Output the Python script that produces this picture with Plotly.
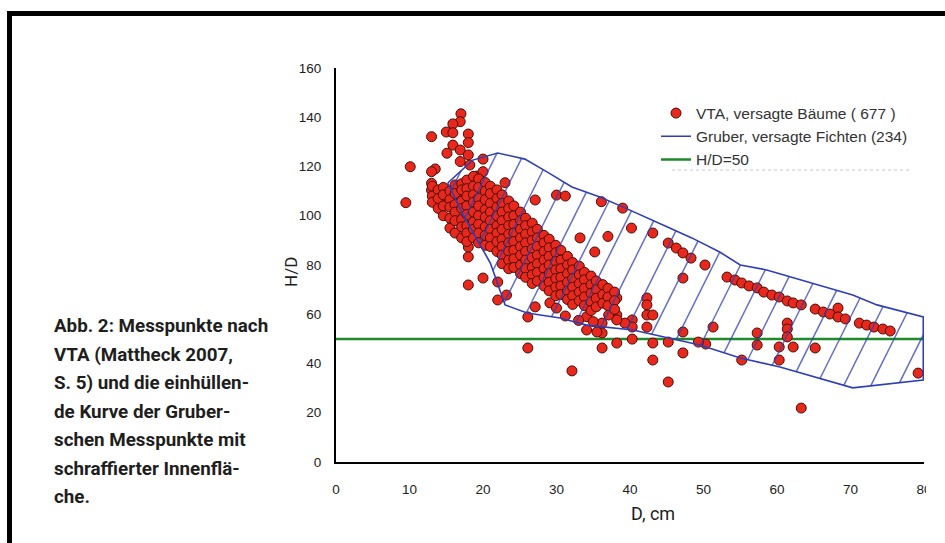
import numpy as np
import plotly.graph_objects as go

# ---------------- data ----------------
# VTA scattered points (D in cm, H/D)
vta_d_outer = [17.0, 16.9, 15.9, 15.0, 15.9, 18.0, 18.0, 13.0, 15.9, 16.9, 15.1, 18.0, 20.0, 16.9, 18.2,
               10.1, 13.5, 13.0, 19.1, 20.0, 13.0, 23.0, 13.0, 14.0, 9.5, 15.1, 16.9,
               18.0, 18.0, 18.0, 20.0, 22.0, 22.0, 23.2, 26.1, 26.1,
               30.0, 31.2, 27.1, 36.1, 39.0, 33.2, 37.0, 40.2, 43.1, 35.2, 45.2, 46.3, 47.2, 48.3, 50.2, 47.2,
               53.2, 54.3, 55.2, 56.2, 57.3, 58.2, 59.3, 60.3, 61.4, 62.2, 63.3, 65.2, 66.3, 67.2, 68.3, 68.3,
               69.3, 71.2, 72.2, 73.2, 74.4, 75.4,
               79.2, 63.3, 45.2, 43.1, 47.2, 47.2, 51.3, 57.3, 57.3, 55.2, 60.3, 60.3, 61.4, 61.4, 61.4, 62.2,
               65.2, 50.3, 49.3, 45.2, 43.1, 40.3, 38.2, 36.2,
               42.3, 42.3, 42.3, 43.1, 42.3, 40.3, 40.3, 39.3, 38.2, 38.2, 37.1, 36.2, 36.2, 37.1, 38.2, 37.1, 36.2,
               31.2, 29.1, 30.0, 27.1, 34.1, 35.0, 35.5, 34.1, 32.1, 33.0]
vta_hd_outer = [141.4, 138.2, 137.3, 134.0, 133.7, 133.2, 129.7, 132.1, 128.7, 126.7, 125.4, 124.7, 123.0, 122.0, 120.6,
                119.9, 119.0, 117.9, 116.1, 117.9, 113.2, 113.4, 110.4, 108.0, 105.3, 107.1, 107.1,
                87.3, 83.3, 71.9, 74.7, 73.1, 65.8, 67.8, 58.9, 46.3,
                108.4, 108.0, 106.4, 105.7, 103.1, 91.0, 91.6, 95.0, 93.0, 85.3, 88.9, 86.9, 84.9, 82.8, 80.0, 74.7,
                75.1, 73.9, 72.7, 71.5, 70.7, 69.0, 67.8, 67.0, 65.4, 64.6, 63.8, 62.1, 60.9, 60.1, 62.5, 58.9,
                58.1, 56.4, 55.6, 54.8, 54.0, 53.2,
                36.1, 21.9, 32.5, 41.4, 44.3, 52.8, 54.8, 52.4, 47.5, 41.4, 46.7, 41.4, 56.4, 54.0, 50.8, 46.7,
                46.3, 47.9, 48.7, 48.7, 48.3, 49.9, 48.3, 46.3,
                66.6, 63.8, 59.7, 59.7, 54.8, 57.7, 54.8, 56.4, 59.7, 57.7, 59.7, 56.4, 52.4, 67.8, 66.6, 63.8, 71.9,
                59.3, 64.6, 62.5, 63.0, 59.0, 57.0, 52.8, 53.6, 37.0, 57.5]

# dense core of the VTA cloud, read column by column
core_col_d = [13.1, 13.9, 14.6, 15.5, 16.2, 17.1, 17.8, 18.7, 19.4, 20.3, 21.0, 21.9, 22.6, 23.5, 24.2,
              25.1, 25.8, 26.7, 27.4, 28.3, 29.0, 29.9, 30.6, 31.5, 32.2, 33.1, 33.8, 34.7, 35.4, 36.3,
              37.0, 37.9]
core_col_hd = [
    [112, 108, 105.5],
    [110.5, 107, 103],
    [111.5, 108.5, 104, 100],
    [110, 106.5, 103.5, 99, 95],
    [112.5, 109, 104.5, 101.5, 98, 93],
    [113, 110.5, 106, 103, 98.5, 95.5, 91],
    [114.5, 111, 108, 104, 100.5, 96, 93, 89.5],
    [116, 112, 108.5, 105.5, 101.5, 97.5, 94.5, 91],
    [115, 111.5, 107, 104, 100, 96.5, 93, 89],
    [113.5, 110, 106.5, 102.5, 99.5, 95.5, 92, 88],
    [112, 109, 105, 101.5, 98, 94.5, 91, 87.5],
    [110.5, 107, 103.5, 100, 96, 93, 89.5, 85.5],
    [108.5, 105, 101.5, 98, 94.5, 90.5, 87.5, 84, 80.5],
    [106, 103, 99.5, 96, 92.5, 89, 85.5, 82, 78.5],
    [104, 100, 96.5, 93, 89.5, 86, 82.5, 79],
    [101.5, 98, 94.5, 91, 87.5, 84, 80, 76.5],
    [99, 96, 92.5, 89, 85.5, 82, 78.5, 75],
    [97, 93.5, 90, 86.5, 83, 79, 76, 72.5],
    [94.5, 91, 87.5, 84, 80.5, 77, 73.5],
    [92, 89, 85.5, 82, 78.5, 75, 71.5],
    [90.5, 87, 83.5, 80, 76.5, 73, 69.5],
    [88, 85, 81.5, 78, 74.5, 71, 67.5],
    [86, 82, 78.5, 75, 71.5, 68],
    [83.5, 80, 76.5, 73, 69.5, 66],
    [81, 78, 74.5, 71, 67.5, 64],
    [79.5, 76, 72.5, 69, 65.5],
    [77, 74, 70.5, 67, 63.5],
    [75.5, 72, 68.5, 65, 61.5],
    [73.5, 70, 66.5, 63],
    [72, 68, 64.5],
    [70.5, 67, 63.5],
    [69, 65.5, 62],
]

# Gruber envelope (hull of the Gruber measurements)
gruber_upper_d = [15.2, 18.6, 22.0, 25.7, 28.7, 32.1, 35.9, 39.0, 45.4, 48.4, 52.2, 55.0, 58.6, 66.3, 70.3, 73.6, 79.9]
gruber_upper_hd = [113.3, 122.6, 125.5, 123.0, 117.8, 111.7, 107.6, 103.6, 95.0, 91.0, 85.3, 80.0, 78.0, 71.1, 67.8, 63.8, 58.9]
gruber_lower_d = [79.9, 70.3, 60.4, 55.0, 49.5, 45.0, 40.4, 34.1, 30.5, 26.0, 23.0, 21.0, 17.3]
gruber_lower_hd = [33.3, 30.1, 38.6, 42.2, 47.5, 50.4, 53.6, 55.6, 58.5, 60.5, 63.8, 80.8, 100.3]

ref_d = [0, 80]
ref_hd = [50, 50]

x_ticks = [0, 10, 20, 30, 40, 50, 60, 70, 80]
y_ticks = [0, 20, 40, 60, 80, 100, 120, 140, 160]

caption_lines = ["Abb. 2: Messpunkte nach", "VTA (Mattheck 2007,", "S. 5) und die einhüllen-",
                 "de Kurve der Gruber-", "schen Messpunkte mit", "schraffierter Innenflä-", "che."]

# ---------------- build ----------------
core_d = [d for d, col in zip(core_col_d, core_col_hd) for _ in col]
core_hd = [h for col in core_col_hd for h in col]
vta_d = vta_d_outer + core_d
vta_hd = vta_hd_outer + core_hd

poly_d = gruber_upper_d + gruber_lower_d + [gruber_upper_d[0]]
poly_hd = gruber_upper_hd + gruber_lower_hd + [gruber_upper_hd[0]]

# hatch lines inside the envelope
slope = 6.0      # steepness of hatch in data units
step = 3.7
phase = 45.4
hx, hy = [], []
P = list(zip(poly_d, poly_hd))
for c in np.arange(phase - 14 * step, 82, step):
    ys = []
    for (x1, y1), (x2, y2) in zip(P[:-1], P[1:]):
        f1 = x1 - y1 / slope - c
        f2 = x2 - y2 / slope - c
        if f1 * f2 < 0:
            u = f1 / (f1 - f2)
            ys.append(y1 + u * (y2 - y1))
    ys.sort()
    for a, b in zip(ys[0::2], ys[1::2]):
        hx += [c + a / slope, c + b / slope, None]
        hy += [a, b, None]

BLUE = "#2f3fb8"
fig = go.Figure()
fig.add_trace(go.Scatter(x=ref_d, y=ref_hd, mode="lines", name="H/D=50",
                         line=dict(color="#1f8a2a", width=2.5), legendrank=3, legendgroup="c"))
fig.add_trace(go.Scatter(x=vta_d, y=vta_hd, mode="markers", name="VTA, versagte Bäume ( 677 )",
                         marker=dict(size=10, color="#e8281c", line=dict(color="#4a0e06", width=1)),
                         legendrank=1, legendgroup="a"))
fig.add_trace(go.Scatter(x=poly_d, y=poly_hd, mode="lines", name="Gruber, versagte Fichten (234)",
                         line=dict(color=BLUE, width=1.6), legendrank=2, legendgroup="b"))
fig.add_trace(go.Scatter(x=hx, y=hy, mode="lines", showlegend=False, hoverinfo="skip",
                         line=dict(color="rgba(47,63,184,0.75)", width=1.5)))

W, H = 945, 543
L, R, T, B = 336, 21, 68, 81
pw, ph = W - L - R, H - T - B


def px(xp):
    return (xp - L) / pw


def py(yp):
    return (H - B - yp) / ph


COND = "Roboto, Noto Sans, sans-serif"
annotations = []
for i, line in enumerate(caption_lines):
    annotations.append(dict(text=line, xref="paper", yref="paper", x=px(52), y=py(326 + i * 28.5),
                            xanchor="left", yanchor="middle", showarrow=False,
                            font=dict(family=COND, size=18.8, color="#1e1e1e", weight="bold")))
annotations.append(dict(text="H/D", xref="paper", yref="paper", x=px(291), y=py(272), textangle=-90,
                        xanchor="center", yanchor="middle", showarrow=False,
                        font=dict(family=COND, size=17, color="#1e1e1e")))
annotations.append(dict(text="D, cm", xref="paper", yref="paper", x=px(653), y=py(513),
                        xanchor="center", yanchor="middle", showarrow=False,
                        font=dict(family=COND, size=18, color="#1e1e1e")))

shapes = [
    dict(type="line", xref="paper", yref="paper", x0=px(7), x1=px(945), y0=py(13.5), y1=py(13.5),
         line=dict(color="black", width=5)),
    dict(type="line", xref="paper", yref="paper", x0=px(9.5), x1=px(9.5), y0=py(11), y1=py(543),
         line=dict(color="black", width=5)),
    dict(type="line", xref="paper", yref="paper", x0=px(672), x1=px(910), y0=py(170), y1=py(170),
         line=dict(color="#c8c8c8", width=1, dash="dot")),
    dict(type="rect", xref="paper", yref="paper", x0=px(926), x1=px(945), y0=py(505), y1=py(470),
         fillcolor="white", line=dict(width=0), layer="above"),
]

fig.update_layout(
    width=W, height=H, margin=dict(l=L, r=R, t=T, b=B),
    paper_bgcolor="white", plot_bgcolor="white",
    font=dict(family="Liberation Sans, Arial", color="#222"),
    showlegend=True,
    legend=dict(x=px(656), y=py(96.5), xanchor="left", yanchor="top", bgcolor="rgba(0,0,0,0)",
                font=dict(size=15.5, color="#333"), tracegroupgap=0, traceorder="grouped"),
    annotations=annotations, shapes=shapes,
    xaxis=dict(range=[0, 80], tickvals=x_ticks, showgrid=False, zeroline=False,
               showline=True, linecolor="black", linewidth=2, ticks="", ticklabelstandoff=14,
               tickfont=dict(size=13.5, color="#222")),
    yaxis=dict(range=[0, 160], tickvals=y_ticks, showgrid=False, zeroline=False,
               showline=True, linecolor="black", linewidth=2, ticks="", ticklabelstandoff=10,
               tickfont=dict(size=13.5, color="#222")),
)

fig.write_html("out.html")
